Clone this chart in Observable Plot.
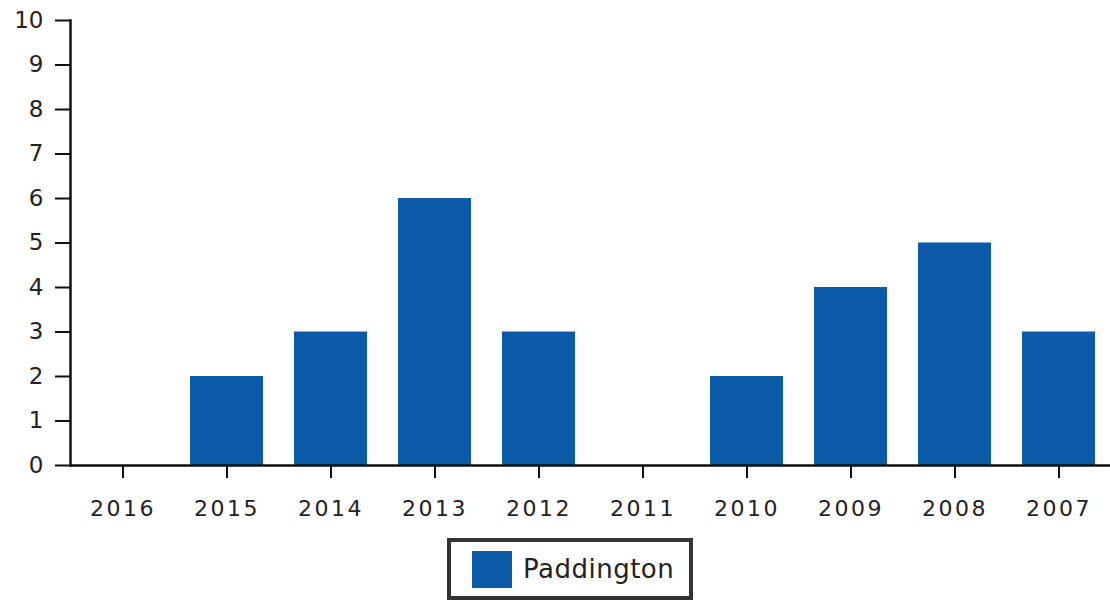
<!DOCTYPE html>
<html>
<head>
<meta charset="utf-8">
<script src="https://cdn.jsdelivr.net/npm/d3@7"></script>
<script src="https://cdn.jsdelivr.net/npm/@observablehq/plot@0.6"></script>
<style>
  body { margin: 0; background: #fff; font-family: "DejaVu Sans", sans-serif; }
  #wrap { position: relative; width: 1110px; height: 603px; }
  #legend {
    position: absolute; left: 447px; top: 538px; width: 238px; height: 54px;
    border: 4px solid #333; box-sizing: content-box; display: flex; align-items: center;
    background: #fff;
  }
  #legend .sw { width: 40px; height: 37px; background: #0b5ba8; margin-left: 21px; margin-right: 11px; }
  #legend span { font-size: 26px; color: #222; letter-spacing: 0.5px; }
</style>
</head>
<body>
<div id="wrap">
  <div id="chart"></div>
  <div id="legend"><div class="sw"></div><span>Paddington</span></div>
</div>
<script>
const years = ["2016","2015","2014","2013","2012","2011","2010","2009","2008","2007"];
const counts = [0, 2, 3, 6, 3, 0, 2, 4, 5, 3];
const yTicks = [0,1,2,3,4,5,6,7,8,9,10];
const seriesName = "Paddington";

const data = years.map((y, i) => ({year: y, value: counts[i], series: seriesName}));

const chart = Plot.plot({
  width: 1110,
  height: 530,
  marginLeft: 70,
  marginRight: 0,
  marginTop: 20,
  marginBottom: 65,
  style: {fontFamily: "DejaVu Sans, sans-serif", color: "#222", background: "#fff"},
  x: {domain: years, paddingInner: 0.3, paddingOuter: 0.15, label: null},
  y: {domain: [0, 10], label: null},
  marks: [
    Plot.barY(data, {x: "year", y: "value", fill: "#0b5ba8"}),
    Plot.ruleY([0], {stroke: "#111", strokeWidth: 2.5}),
    Plot.frame({anchor: "left", stroke: "#111", strokeWidth: 2.5}),
    Plot.axisX({tickSize: 13, tickPadding: 22, stroke: "#111", strokeWidth: 2, fontSize: 23, fill: "#222", ariaLabel: "x-axis"}),
    Plot.axisY({ticks: yTicks, tickSize: 15, tickPadding: 12, stroke: "#111", strokeWidth: 2, fontSize: 23, fill: "#222", ariaLabel: "y-axis", tickFormat: d3.format("d")})
  ]
});
d3.select(chart).selectAll("g[aria-label='x-axis tick label']").attr("font-size", 22).style("letter-spacing", "2.5px");
d3.select(chart).selectAll("g[aria-label='y-axis tick label']").attr("font-size", 23);
document.getElementById("chart").appendChild(chart);
</script>
</body>
</html>
